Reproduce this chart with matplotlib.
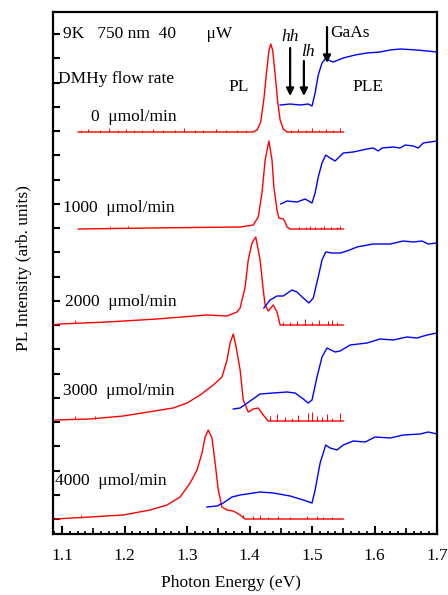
import numpy as np
import matplotlib
matplotlib.use('Agg')
import matplotlib.pyplot as plt
from matplotlib.ticker import MultipleLocator

# 字体: Times 风格
plt.rcParams['font.family'] = ['Liberation Serif', 'DejaVu Serif']
plt.rcParams['font.size'] = 12.5

# ---- PL 光谱 (能量 eV, 强度 arb. units, 已含偏移) ----
pl0_e = [1.126, 1.250, 1.405, 1.412, 1.418, 1.423, 1.427, 1.431, 1.434, 1.437, 1.441, 1.445, 1.449, 1.454, 1.460, 1.550]
pl0_i = [402, 402, 402, 404, 412, 435, 460, 483, 490, 484, 460, 433, 414, 405, 402, 402]

pl1_e = [1.126, 1.241, 1.385, 1.406, 1.414, 1.420, 1.425, 1.431, 1.436, 1.439, 1.444, 1.447, 1.454, 1.457, 1.460, 1.465, 1.550]
pl1_i = [305, 306, 307, 309, 317, 341, 374, 393, 374, 347, 324, 316, 315, 312, 307, 305, 305]

pl2_e = [1.086, 1.097, 1.172, 1.252, 1.332, 1.364, 1.380, 1.385, 1.393, 1.398, 1.404, 1.410, 1.417, 1.422, 1.425, 1.430, 1.438, 1.444, 1.449, 1.550]
pl2_i = [209, 210, 212, 215, 219, 218, 222, 226, 247, 274, 291, 297, 274, 244, 229, 223, 229, 222, 209, 209]

pl3_e = [1.089, 1.145, 1.198, 1.278, 1.300, 1.321, 1.342, 1.356, 1.364, 1.369, 1.374, 1.378, 1.385, 1.390, 1.398, 1.406, 1.414, 1.422, 1.430, 1.550]
pl3_i = [114, 115, 118, 126, 131, 139, 149, 157, 174, 191, 200, 189, 164, 134, 122, 125, 126, 119, 113, 113]

pl4_e = [1.089, 1.145, 1.198, 1.241, 1.268, 1.289, 1.305, 1.316, 1.324, 1.329, 1.334, 1.340, 1.345, 1.350, 1.356, 1.364, 1.374, 1.385, 1.393, 1.550]
pl4_i = [15, 17, 19, 24, 29, 37, 51, 64, 81, 97, 104, 96, 71, 44, 27, 24, 23, 19, 15, 15]

# ---- PL 噪声尖峰 (能量, 高度) ----
sp0_e = [1.130, 1.142, 1.160, 1.175, 1.190, 1.203, 1.215, 1.228, 1.245, 1.262, 1.280, 1.295, 1.313, 1.325, 1.346, 1.362, 1.380, 1.394,
         1.466, 1.478, 1.490, 1.500, 1.512, 1.522, 1.533, 1.545]
sp0_h = [2, 3, 2, 4, 2, 3, 2, 2, 3, 2, 2, 4, 2, 2, 3, 2, 2, 2, 2, 3, 2, 4, 2, 3, 2, 4]
sp1_e = [1.177, 1.205, 1.480, 1.490, 1.497, 1.505, 1.515, 1.520, 1.530, 1.540, 1.545]
sp1_h = [3, 2, 2, 2, 3, 2, 2, 3, 2, 2, 3]
sp2_e = [1.120, 1.454, 1.465, 1.476, 1.489, 1.500, 1.511, 1.526, 1.532, 1.540]
sp2_h = [3, 3, 3, 4, 6, 3, 5, 4, 5, 3]
sp3_e = [1.121, 1.153, 1.433, 1.444, 1.457, 1.468, 1.478, 1.494, 1.500, 1.508, 1.516, 1.524, 1.532, 1.545]
sp3_h = [3, 3, 5, 7, 4, 3, 6, 8, 9, 5, 4, 7, 3, 8]
sp4_e = [1.130, 1.390, 1.406, 1.417, 1.430, 1.446, 1.465, 1.492, 1.508, 1.518, 1.532]
sp4_h = [3, 3, 3, 4, 2, 3, 2, 3, 3, 2, 2]

# ---- PLE 光谱 ----
ple0_e = [1.449, 1.465, 1.481, 1.494, 1.500, 1.505, 1.510, 1.516, 1.521, 1.526, 1.534, 1.550, 1.569, 1.588, 1.609, 1.625, 1.641, 1.668, 1.700]
ple0_i = [429, 430, 429, 430, 428, 441, 459, 471, 475, 474, 472, 476, 479, 481, 482, 484, 485, 484, 482]

ple1_e = [1.450, 1.460, 1.476, 1.489, 1.500, 1.505, 1.510, 1.516, 1.522, 1.529, 1.537, 1.550, 1.566, 1.588, 1.598, 1.606, 1.612,
          1.630, 1.641, 1.649, 1.662, 1.670, 1.678, 1.700]
ple1_i = [330, 333, 332, 335, 331, 341, 357, 371, 379, 376, 373, 381, 382, 385, 386, 383, 386, 387, 386, 389, 388, 386, 391, 393]

ple2_e = [1.423, 1.433, 1.444, 1.454, 1.468, 1.476, 1.486, 1.495, 1.502, 1.510, 1.516, 1.522, 1.532, 1.545, 1.556, 1.572, 1.598,
          1.625, 1.646, 1.662, 1.676, 1.686, 1.700]
ple2_i = [226, 234, 238, 238, 244, 242, 236, 231, 236, 257, 274, 282, 281, 281, 283, 287, 290, 290, 293, 292, 293, 290, 291]

ple3_e = [1.374, 1.385, 1.401, 1.417, 1.438, 1.460, 1.473, 1.484, 1.494, 1.500, 1.508, 1.516, 1.524, 1.537, 1.545, 1.561, 1.588,
          1.609, 1.630, 1.652, 1.668, 1.684, 1.700]
ple3_i = [125, 126, 133, 140, 141, 142, 141, 136, 131, 134, 157, 177, 186, 182, 183, 189, 191, 195, 194, 197, 196, 199, 201]

ple4_e = [1.332, 1.348, 1.358, 1.372, 1.385, 1.417, 1.438, 1.465, 1.486, 1.500, 1.505, 1.513, 1.522, 1.529, 1.540, 1.550, 1.566,
          1.585, 1.601, 1.625, 1.646, 1.673, 1.686, 1.700]
ple4_i = [27, 28, 31, 37, 39, 42, 41, 38, 34, 31, 44, 71, 89, 86, 84, 89, 93, 92, 97, 96, 99, 100, 102, 100]

flow_labels = ['0  μmol/min', '1000  μmol/min', '2000  μmol/min', '3000  μmol/min', '4000  μmol/min']
flow_label_x = [1.146, 1.102, 1.105, 1.102, 1.089]
flow_label_y = [417, 326, 232, 143, 53]

RED = '#ff0000'
BLUE = '#0000ff'


def draw_spectra(ax):
    """画 PL (红) 与 PLE (蓝) 光谱"""
    pls = [(pl0_e, pl0_i, sp0_e, sp0_h), (pl1_e, pl1_i, sp1_e, sp1_h), (pl2_e, pl2_i, sp2_e, sp2_h),
           (pl3_e, pl3_i, sp3_e, sp3_h), (pl4_e, pl4_i, sp4_e, sp4_h)]
    for e, i, se, sh in pls:
        ax.plot(e, i, color=RED, lw=1.0)
        base = np.interp(se, e, i)
        ax.vlines(se, base, base + np.array(sh), color=RED, lw=0.7)

    ples = [(ple0_e, ple0_i), (ple1_e, ple1_i), (ple2_e, ple2_i), (ple3_e, ple3_i), (ple4_e, ple4_i)]
    for e, i in ples:
        ax.plot(e, i, color=BLUE, lw=1.0)


def draw_labels(ax):
    """文字与箭头标注"""
    ax.text(1.102, 500, '9K   750 nm  40       μW', va='center', ha='left')
    ax.text(1.094, 455, 'DMHy flow rate', va='center', ha='left')
    ax.text(1.382, 447, 'PL', va='center', ha='center')
    ax.text(1.590, 447, 'PLE', va='center', ha='center')
    ax.text(1.465, 497, 'hh', va='center', ha='center', style='italic')
    ax.text(1.494, 482, 'lh', va='center', ha='center', style='italic')
    ax.text(1.529, 501, 'GaAs', va='center', ha='left')

    arrow = dict(arrowstyle='-|>', color='black', lw=1.6, mutation_scale=11, shrinkA=0, shrinkB=0)
    ax.annotate('', xy=(1.465, 438), xytext=(1.465, 486), arrowprops=arrow)
    ax.annotate('', xy=(1.487, 438), xytext=(1.487, 473), arrowprops=arrow)
    ax.annotate('', xy=(1.524, 471), xytext=(1.524, 507), arrowprops=arrow)

    for lab, x, y in zip(flow_labels, flow_label_x, flow_label_y):
        ax.text(x, y, lab, va='center', ha='left')


def main():
    fig = plt.figure(figsize=(4.48, 5.95), dpi=100, facecolor='white')
    ax = fig.add_axes([53 / 448, 61 / 595, 384 / 448, 522 / 595])

    draw_spectra(ax)
    draw_labels(ax)

    # 坐标轴
    ax.set_xlim(1.0856, 1.7)
    ax.set_ylim(0, 522)
    ax.xaxis.set_major_locator(MultipleLocator(0.1))
    ax.xaxis.set_minor_locator(MultipleLocator(0.0125))
    ax.set_xticks(np.arange(1.1, 1.71, 0.1))
    ax.set_xticklabels(['1.1', '1.2', '1.3', '1.4', '1.5', '1.6', '1.7'])
    ax.set_yticks(15 + 24.25 * np.arange(21))
    ax.set_yticklabels([])
    ax.tick_params(axis='x', which='major', direction='in', length=6, width=1.5, pad=10, top=False)
    ax.tick_params(axis='x', which='minor', direction='in', length=2.5, width=1.2, top=False)
    ax.tick_params(axis='y', which='major', direction='in', length=5, width=1.5, right=False)

    # 0.05 处的中等刻度
    sec = ax.secondary_xaxis('bottom')
    sec.set_xticks(np.arange(1.15, 1.7, 0.1))
    sec.tick_params(direction='in', length=4, width=1.2, labelbottom=False)
    sec.spines['bottom'].set_visible(False)

    for s in ax.spines.values():
        s.set_linewidth(1.6)

    ax.set_xlabel('Photon Energy (eV)')
    ax.xaxis.set_label_coords(0.464, -0.078)
    ax.set_ylabel('PL Intensity (arb. units)')
    ax.yaxis.set_label_coords(-0.055, 0.51)

    fig.savefig('out.png', dpi=100)
    plt.close(fig)


if __name__ == '__main__':
    main()
